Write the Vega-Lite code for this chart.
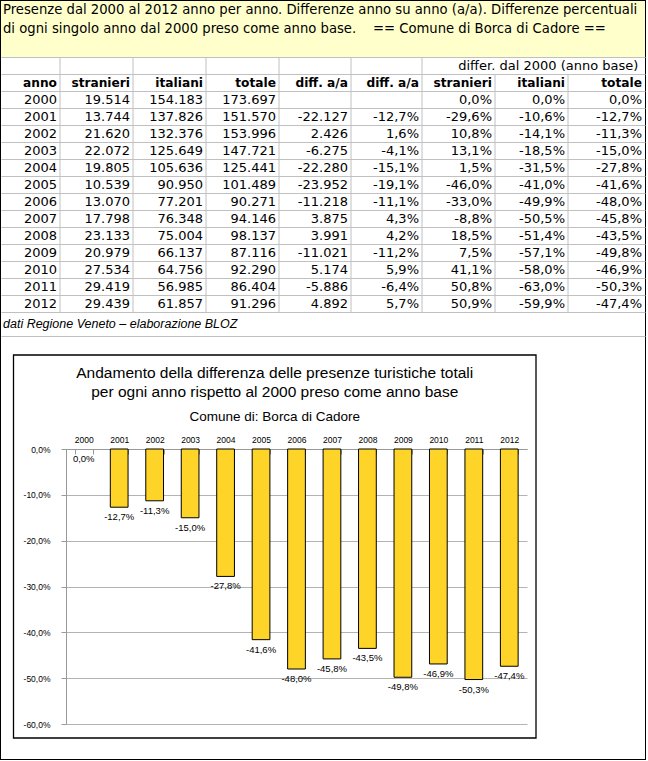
{
  "$schema": "https://vega.github.io/schema/vega-lite/v6.json",
  "width": 646,
  "height": 760,
  "padding": 0,
  "autosize": {"type": "none"},
  "background": "white",
  "config": {
    "view": {"stroke": "black", "strokeWidth": 2},
    "locale": {"number": {"decimal": ",", "thousands": ".", "grouping": [3], "currency": ["", " €"], "minus": "-"}},
    "text": {"font": "DejaVu Sans", "fontSize": 13, "color": "black"}
  },
  "datasets": {
    "t": [
      {"anno": 2000, "str": 19514, "ita": 154183, "tot": 173697, "da": null, "dp": null, "ps": 0, "pi": 0, "pt": 0},
      {"anno": 2001, "str": 13744, "ita": 137826, "tot": 151570, "da": -22127, "dp": -0.127, "ps": -0.296, "pi": -0.106, "pt": -0.127},
      {"anno": 2002, "str": 21620, "ita": 132376, "tot": 153996, "da": 2426, "dp": 0.016, "ps": 0.108, "pi": -0.141, "pt": -0.113},
      {"anno": 2003, "str": 22072, "ita": 125649, "tot": 147721, "da": -6275, "dp": -0.041, "ps": 0.131, "pi": -0.185, "pt": -0.15},
      {"anno": 2004, "str": 19805, "ita": 105636, "tot": 125441, "da": -22280, "dp": -0.151, "ps": 0.015, "pi": -0.315, "pt": -0.278},
      {"anno": 2005, "str": 10539, "ita": 90950, "tot": 101489, "da": -23952, "dp": -0.191, "ps": -0.46, "pi": -0.41, "pt": -0.416},
      {"anno": 2006, "str": 13070, "ita": 77201, "tot": 90271, "da": -11218, "dp": -0.111, "ps": -0.33, "pi": -0.499, "pt": -0.48},
      {"anno": 2007, "str": 17798, "ita": 76348, "tot": 94146, "da": 3875, "dp": 0.043, "ps": -0.088, "pi": -0.505, "pt": -0.458},
      {"anno": 2008, "str": 23133, "ita": 75004, "tot": 98137, "da": 3991, "dp": 0.042, "ps": 0.185, "pi": -0.514, "pt": -0.435},
      {"anno": 2009, "str": 20979, "ita": 66137, "tot": 87116, "da": -11021, "dp": -0.112, "ps": 0.075, "pi": -0.571, "pt": -0.498},
      {"anno": 2010, "str": 27534, "ita": 64756, "tot": 92290, "da": 5174, "dp": 0.059, "ps": 0.411, "pi": -0.58, "pt": -0.469},
      {"anno": 2011, "str": 29419, "ita": 56985, "tot": 86404, "da": -5886, "dp": -0.064, "ps": 0.508, "pi": -0.63, "pt": -0.503},
      {"anno": 2012, "str": 29439, "ita": 61857, "tot": 91296, "da": 4892, "dp": 0.057, "ps": 0.509, "pi": -0.599, "pt": -0.474}
    ],
    "cols": [
      {"c": 1, "h": "anno"},
      {"c": 2, "h": "stranieri"},
      {"c": 3, "h": "italiani"},
      {"c": 4, "h": "totale"},
      {"c": 5, "h": "diff. a/a"},
      {"c": 6, "h": "diff. a/a"},
      {"c": 7, "h": "stranieri"},
      {"c": 8, "h": "italiani"},
      {"c": 9, "h": "totale"}
    ]
  },
  "layer": [
    {
      "data": {"values": [
        {"l": 1, "t": "Presenze dal 2000 al 2012 anno per anno. Differenze anno su anno (a/a). Differenze percentuali"},
        {"l": 2, "t": "di ogni singolo anno dal 2000 preso come anno base. \u00a0\u00a0 == Comune di Borca di Cadore =="}
      ]},
      "layer": [
        {
          "transform": [{"filter": "datum.l == 1"}],
          "mark": {"type": "rect", "fill": "#FFFFCC", "xOffset": 1, "yOffset": 1},
          "encoding": {
            "x": {"datum": 0, "type": "quantitative", "scale": {"domain": [0, 1], "range": [0, 645], "nice": false, "zero": false}, "axis": null},
            "x2": {"datum": 1},
            "y": {"datum": 0.5, "type": "quantitative", "scale": {"domain": [0.5, 3.5], "range": [0, 57], "nice": false, "zero": false}, "axis": null},
            "y2": {"datum": 3.5}
          }
        },
        {
          "mark": {"type": "text", "align": "left", "dx": 3, "fontSize": 13.2},
          "encoding": {
            "x": {"datum": 0, "type": "quantitative"},
            "y": {"field": "l", "type": "quantitative"},
            "text": {"field": "t"}
          }
        }
      ]
    },
    {
      "layer": [
        {
          "data": {"name": "cols"},
          "transform": [{"filter": "datum.c <= 6"}],
          "mark": {"type": "rule", "stroke": "#C0C0C0", "strokeWidth": 1},
          "encoding": {
            "x": {"field": "c", "type": "quantitative", "scale": {"domain": [0, 1, 2, 3, 4, 5, 6, 7, 8, 9], "range": [1, 60, 133, 206, 279, 351, 422, 495, 568, 645], "nice": false, "zero": false}, "axis": null},
            "y": {"datum": 1997.5, "type": "quantitative", "scale": {"domain": [1997.5, 2012.5, 2013.5], "range": [57, 312, 336], "nice": false, "zero": false},
                  "axis": {"orient": "left", "offset": 0, "grid": true, "values": [1997.5, 1998.5, 1999.5, 2000.5, 2001.5, 2002.5, 2003.5, 2004.5, 2005.5, 2006.5, 2007.5, 2008.5, 2009.5, 2010.5, 2011.5, 2012.5, 2013.5], "gridColor": "#C0C0C0", "gridOpacity": 1, "gridWidth": 1, "labels": false, "ticks": false, "domain": false, "title": null}},
            "y2": {"datum": 2012.5}
          }
        },
        {
          "data": {"name": "cols"},
          "transform": [{"filter": "datum.c == 7 || datum.c == 8"}],
          "mark": {"type": "rule", "stroke": "#C0C0C0", "strokeWidth": 1},
          "encoding": {
            "x": {"field": "c", "type": "quantitative"},
            "y": {"datum": 1998.5, "type": "quantitative"},
            "y2": {"datum": 2012.5}
          }
        },
        {
          "data": {"name": "t"},
          "mark": {"type": "text", "align": "right", "dx": -3},
          "encoding": {
            "x": {"datum": 1, "type": "quantitative"},
            "y": {"field": "anno", "type": "quantitative"},
            "text": {"field": "anno", "type": "ordinal"}
          }
        },
        {
          "data": {"name": "t"},
          "mark": {"type": "text", "align": "right", "dx": -3},
          "encoding": {
            "x": {"datum": 2, "type": "quantitative"},
            "y": {"field": "anno", "type": "quantitative"},
            "text": {"field": "str", "type": "quantitative", "format": ",.0f"}
          }
        },
        {
          "data": {"name": "t"},
          "mark": {"type": "text", "align": "right", "dx": -3},
          "encoding": {
            "x": {"datum": 3, "type": "quantitative"},
            "y": {"field": "anno", "type": "quantitative"},
            "text": {"field": "ita", "type": "quantitative", "format": ",.0f"}
          }
        },
        {
          "data": {"name": "t"},
          "mark": {"type": "text", "align": "right", "dx": -3},
          "encoding": {
            "x": {"datum": 4, "type": "quantitative"},
            "y": {"field": "anno", "type": "quantitative"},
            "text": {"field": "tot", "type": "quantitative", "format": ",.0f"}
          }
        },
        {
          "data": {"name": "t"},
          "transform": [{"filter": "isValid(datum.da)"}],
          "mark": {"type": "text", "align": "right", "dx": -3},
          "encoding": {
            "x": {"datum": 5, "type": "quantitative"},
            "y": {"field": "anno", "type": "quantitative"},
            "text": {"field": "da", "type": "quantitative", "format": ",.0f"}
          }
        },
        {
          "data": {"name": "t"},
          "transform": [{"filter": "isValid(datum.dp)"}],
          "mark": {"type": "text", "align": "right", "dx": -3},
          "encoding": {
            "x": {"datum": 6, "type": "quantitative"},
            "y": {"field": "anno", "type": "quantitative"},
            "text": {"field": "dp", "type": "quantitative", "format": ".1%"}
          }
        },
        {
          "data": {"name": "t"},
          "mark": {"type": "text", "align": "right", "dx": -3},
          "encoding": {
            "x": {"datum": 7, "type": "quantitative"},
            "y": {"field": "anno", "type": "quantitative"},
            "text": {"field": "ps", "type": "quantitative", "format": ".1%"}
          }
        },
        {
          "data": {"name": "t"},
          "mark": {"type": "text", "align": "right", "dx": -3},
          "encoding": {
            "x": {"datum": 8, "type": "quantitative"},
            "y": {"field": "anno", "type": "quantitative"},
            "text": {"field": "pi", "type": "quantitative", "format": ".1%"}
          }
        },
        {
          "data": {"name": "t"},
          "mark": {"type": "text", "align": "right", "dx": -3},
          "encoding": {
            "x": {"datum": 9, "type": "quantitative"},
            "y": {"field": "anno", "type": "quantitative"},
            "text": {"field": "pt", "type": "quantitative", "format": ".1%"}
          }
        },
        {
          "data": {"name": "cols"},
          "mark": {"type": "text", "align": "right", "dx": -3, "fontWeight": "bold", "fontSize": 12.2},
          "encoding": {
            "x": {"field": "c", "type": "quantitative"},
            "y": {"datum": 1999, "type": "quantitative"},
            "text": {"field": "h"}
          }
        },
        {
          "data": {"values": [{"t": "differ. dal 2000 (anno base)"}]},
          "mark": {"type": "text", "align": "center"},
          "encoding": {
            "x": {"datum": 7.73, "type": "quantitative"},
            "y": {"datum": 1998, "type": "quantitative"},
            "text": {"field": "t"}
          }
        },
        {
          "data": {"values": [{"t": "dati Regione Veneto – elaborazione BLOZ"}]},
          "mark": {"type": "text", "align": "left", "dx": 2, "font": "Liberation Sans", "fontStyle": "italic", "fontSize": 12.5},
          "encoding": {
            "x": {"datum": 0, "type": "quantitative"},
            "y": {"datum": 2013, "type": "quantitative"},
            "text": {"field": "t"}
          }
        }
      ]
    },
    {
      "data": {"values": [{"t1": "Andamento della differenza delle presenze turistiche totali", "t2": "per ogni anno rispetto al 2000 preso come anno base", "t3": "Comune di: Borca di Cadore"}]},
      "layer": [
        {
          "mark": {"type": "rect", "filled": false, "stroke": "black", "strokeWidth": 1.3},
          "encoding": {
            "x": {"datum": 0, "type": "quantitative", "scale": {"domain": [0, 1], "range": [13.5, 536], "nice": false, "zero": false}, "axis": null},
            "x2": {"datum": 1},
            "y": {"datum": 0, "type": "quantitative", "scale": {"domain": [0, 1], "range": [355, 738], "nice": false, "zero": false}, "axis": null},
            "y2": {"datum": 1}
          }
        },
        {
          "mark": {"type": "text", "font": "Liberation Sans", "fontSize": 15.5, "align": "center"},
          "encoding": {
            "x": {"datum": 0.5, "type": "quantitative"},
            "y": {"datum": 0.046, "type": "quantitative"},
            "text": {"field": "t1"}
          }
        },
        {
          "mark": {"type": "text", "font": "Liberation Sans", "fontSize": 15.5, "align": "center"},
          "encoding": {
            "x": {"datum": 0.5, "type": "quantitative"},
            "y": {"datum": 0.096, "type": "quantitative"},
            "text": {"field": "t2"}
          }
        },
        {
          "mark": {"type": "text", "font": "Liberation Sans", "fontSize": 13.5, "align": "center"},
          "encoding": {
            "x": {"datum": 0.5, "type": "quantitative"},
            "y": {"datum": 0.161, "type": "quantitative"},
            "text": {"field": "t3"}
          }
        }
      ]
    },
    {
      "data": {"name": "t"},
      "encoding": {
        "x": {"field": "anno", "type": "ordinal",
              "scale": {"type": "band", "range": [66, 527], "paddingInner": 0.5, "paddingOuter": 0.25},
              "axis": {"orient": "top", "offset": -449, "title": null, "labelAngle": 0, "labelFont": "Liberation Sans", "labelFontSize": 8.5, "labelColor": "black", "tickBand": "extent", "tickSize": -5, "tickColor": "#999999", "domain": true, "domainColor": "#999999", "labelPadding": 10, "grid": false}},
        "y": {"field": "pt", "type": "quantitative",
              "scale": {"domain": [-0.6, 0], "range": [724, 449], "nice": false},
              "axis": {"orient": "left", "offset": -66, "title": null, "values": [0, -0.1, -0.2, -0.3, -0.4, -0.5, -0.6], "format": ".1%", "labelFont": "Liberation Sans", "labelFontSize": 8.5, "labelColor": "black", "tickSize": 5, "tickColor": "#999999", "domainColor": "#999999", "grid": true, "gridColor": "#B3B3B3", "gridOpacity": 1, "labelPadding": 11}}
      },
      "layer": [
        {
          "transform": [{"filter": "datum.pt < 0"}],
          "mark": {"type": "bar", "fill": "#FFD428", "stroke": "black", "strokeWidth": 1}
        },
        {
          "mark": {"type": "text", "baseline": "top", "dy": 5, "font": "Liberation Sans", "fontSize": 9.5},
          "encoding": {"text": {"field": "pt", "type": "quantitative", "format": ".1%"}}
        }
      ]
    }
  ],
  "resolve": {"scale": {"x": "independent", "y": "independent"}}
}
